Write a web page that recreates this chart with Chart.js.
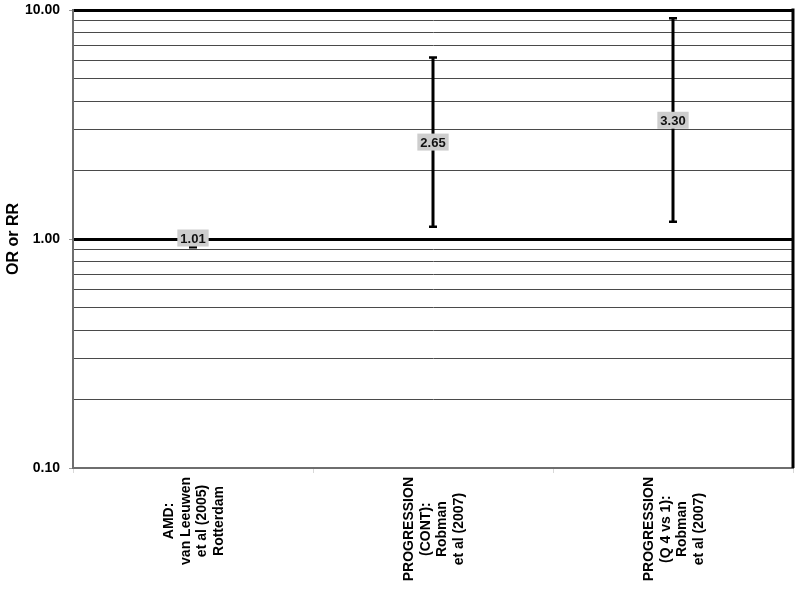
<!DOCTYPE html>
<html>
<head>
<meta charset="utf-8">
<script src="https://cdn.jsdelivr.net/npm/chart.js@4/dist/chart.umd.min.js"></script>
<style>
  html, body { margin: 0; padding: 0; background: #fff; }
  #wrap { width: 800px; height: 589px; }
</style>
</head>
<body>
<div id="wrap"><canvas id="chart" width="800" height="589"></canvas></div>
<script>
// données
const categories = [
    ['AMD:', 'van Leeuwen', 'et al (2005)', 'Rotterdam'],
    ['PROGRESSION', '(CONT):', 'Robman', 'et al (2007)'],
    ['PROGRESSION', '(Q 4 vs 1):', 'Robman', 'et al (2007)']
];
const orValues = [1.01, 2.65, 3.30];
const ciLow = [0.92, 1.13, 1.19];
const ciHigh = [1.08, 6.2, 9.2];

const gridValues = [0.1, 0.2, 0.3, 0.4, 0.5, 0.6, 0.7, 0.8, 0.9,
                    1, 2, 3, 4, 5, 6, 7, 8, 9, 10];
const majorTicks = [0.1, 1, 10];
const majorLabels = ['0.10', '1.00', '10.00'];

const FONT = "'Liberation Sans', Arial, sans-serif";

function isMajor(v) {
    return majorTicks.some(m => Math.abs(m - v) < 1e-9);
}

// barres d'erreur + étiquettes + cadre
const errorBarPlugin = {
    id: 'errorBars',
    afterDatasetsDraw(chart) {
        const ctx = chart.ctx;
        const xs = chart.scales.x;
        const ys = chart.scales.y;
        const area = chart.chartArea;

        ctx.save();
        // bordure droite noire
        ctx.strokeStyle = '#000';
        ctx.lineWidth = 3;
        ctx.beginPath();
        ctx.moveTo(area.right, area.top - 1.5);
        ctx.lineTo(area.right, area.bottom);
        ctx.stroke();

        orValues.forEach((v, i) => {
            const x = xs.getPixelForValue(i);
            const yLo = ys.getPixelForValue(ciLow[i]);
            const yHi = ys.getPixelForValue(ciHigh[i]);
            ctx.strokeStyle = '#000';
            ctx.lineWidth = 3;
            ctx.beginPath();
            ctx.moveTo(x, yLo);
            ctx.lineTo(x, yHi);
            ctx.stroke();
            ctx.lineWidth = 2.5;
            ctx.beginPath();
            ctx.moveTo(x - 4, yLo); ctx.lineTo(x + 4, yLo);
            ctx.moveTo(x - 4, yHi); ctx.lineTo(x + 4, yHi);
            ctx.stroke();

            // étiquette de valeur
            const y = ys.getPixelForValue(v);
            const txt = v.toFixed(2);
            ctx.font = 'bold 13px ' + FONT;
            const w = ctx.measureText(txt).width + 6;
            const h = 17;
            ctx.fillStyle = '#cdcdcd';
            ctx.fillRect(x - w / 2, y - h / 2, w, h);
            ctx.fillStyle = '#111';
            ctx.textAlign = 'center';
            ctx.textBaseline = 'middle';
            ctx.fillText(txt, x, y + 1);
        });

        // libellés des catégories (tournés)
        ctx.font = 'bold 14px ' + FONT;
        ctx.fillStyle = '#000';
        ctx.textAlign = 'center';
        ctx.textBaseline = 'middle';
        const lineH = 16.5;
        categories.forEach((lines, i) => {
            const x = xs.getPixelForValue(i);
            const maxW = Math.max(...lines.map(l => ctx.measureText(l).width));
            ctx.save();
            ctx.translate(x + 1, area.bottom + 9);
            ctx.rotate(-Math.PI / 2);
            lines.forEach((l, k) => {
                ctx.fillText(l, -maxW / 2, (k - (lines.length - 1) / 2) * lineH);
            });
            ctx.restore();
        });
        ctx.restore();
    }
};

const ctx = document.getElementById('chart').getContext('2d');
new Chart(ctx, {
    type: 'line',
    data: {
        labels: categories.map(c => c.join(' ')),
        datasets: [{
            data: orValues,
            showLine: false,
            pointRadius: 0,
            pointHoverRadius: 0
        }]
    },
    plugins: [errorBarPlugin],
    options: {
        responsive: false,
        animation: false,
        events: [],
        layout: { padding: { left: 0, top: 10, right: 7, bottom: 0 } },
        plugins: { legend: { display: false }, tooltip: { enabled: false } },
        scales: {
            x: {
                type: 'category',
                offset: true,
                afterFit: s => { s.height = 121; s.paddingLeft = 0; s.paddingRight = 0; },
                ticks: { display: false },
                grid: {
                    offset: true,
                    drawOnChartArea: false,
                    tickLength: 5,
                    color: '#d8d8d8'
                },
                border: { color: '#6e6e6e', width: 2 }
            },
            y: {
                type: 'logarithmic',
                min: 0.1,
                max: 10,
                afterFit: s => { s.width = 73; s.paddingTop = 0; s.paddingBottom = 0; },
                afterBuildTicks: s => {
                    s.ticks = gridValues.map(v => ({ value: v, major: isMajor(v) }));
                },
                ticks: {
                    autoSkip: false,
                    padding: 9,
                    color: '#000',
                    font: { family: FONT, size: 14, weight: 'bold' },
                    callback: (val) => {
                        const idx = majorTicks.findIndex(m => Math.abs(m - val) < 1e-9);
                        return idx >= 0 ? majorLabels[idx] : '';
                    }
                },
                grid: {
                    tickLength: 4,
                    color: c => {
                        const v = c.tick.value;
                        if (Math.abs(v - 0.1) < 1e-9) return '#6e6e6e';
                        return isMajor(v) ? '#000' : '#4a4a4a';
                    },
                    lineWidth: c => (isMajor(c.tick.value) && c.tick.value > 0.5 ? 3 : 1),
                    tickColor: c => (isMajor(c.tick.value) ? '#9a9a9a' : 'rgba(0,0,0,0)'),
                    tickWidth: 1
                },
                border: { color: '#6e6e6e', width: 2 },
                title: {
                    display: true,
                    text: 'OR or RR',
                    color: '#000',
                    font: { family: FONT, size: 16, weight: 'bold' },
                    padding: { top: 4, bottom: 4 }
                }
            }
        }
    }
});
</script>
</body>
</html>
